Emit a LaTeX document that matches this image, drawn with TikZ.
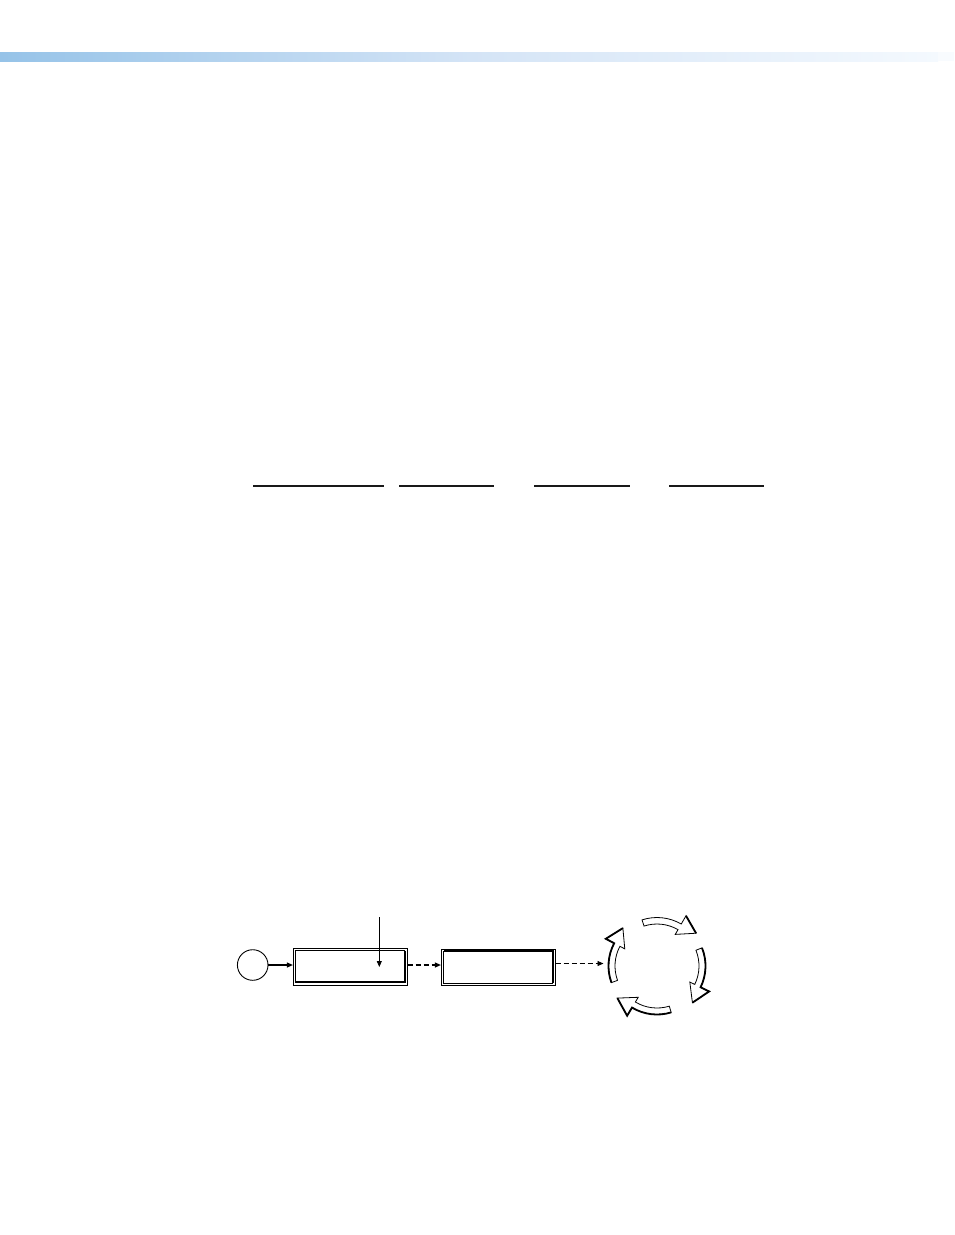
\documentclass[tikz,border=0pt]{standalone}
\usetikzlibrary{arrows.meta}
\definecolor{barL}{RGB}{150,195,232}
\definecolor{barM}{RGB}{212,228,246}
\definecolor{barR}{RGB}{244,249,254}
\tikzset{
  rule/.style={line width=1.2pt, black!90},
  boxouter/.style={draw, line width=0.8pt, minimum width=114pt, minimum height=36.7pt, inner sep=0pt},
  boxinner/.style={line width=0.9pt},
  heavy/.style={line width=1.8pt},
  conn/.style={line width=1.1pt, -{Triangle[length=6pt,width=5pt]}},
  dconn/.style={line width=1.1pt, dash pattern=on 5pt off 3pt, -{Triangle[length=6pt,width=5pt]}},
  cyc/.style={draw, fill=white, line width=0.8pt, line join=miter},
  cycouter/.style={line width=1.8pt}
}
\begin{document}
\begin{tikzpicture}[x=1pt, y=-1pt]
\useasboundingbox (0,0) rectangle (954,1235);
\fill[white] (0,0) rectangle (954,1235);
% top gradient bar
\shade[left color=barL, right color=barM] (0,52) rectangle (470,61);
\shade[left color=barM, right color=barR] (470,52) rectangle (938,61);
\fill[barR!60!white] (938,52) rectangle (954,61);
% rules
\draw[rule] (253,486) -- (384,486);
\draw[rule] (399,486) -- (494,486);
\draw[rule] (534,486) -- (630,486);
\draw[rule] (669,486) -- (764,486);
% diagram
\node[draw, circle, line width=0.9pt, minimum size=30.6pt, inner sep=0pt] (c) at (252.7,965) {};
\node[boxouter] (b1) at (350.3,966.6) {};
\node[boxouter] (b2) at (498.3,967.3) {};
% inner boxes
\draw[boxinner] ([shift={(3,2.7)}]b1.north west) rectangle ([shift={(-3,-3)}]b1.south east);
\draw[heavy] ([shift={(-3,2.7)}]b1.north east) -- ([shift={(-3,-3)}]b1.south east) -- ([shift={(3,-3)}]b1.south west);
\draw[heavy] ([shift={(0,0.2)}]b1.south west) -- ([shift={(0,0.2)}]b1.south east);
\draw[boxinner] ([shift={(3,2.4)}]b2.north west) rectangle ([shift={(-3,-3)}]b2.south east);
\draw[heavy] ([shift={(3,2.4)}]b2.north west) -- ([shift={(-3,2.4)}]b2.north east) -- ([shift={(-3,-3)}]b2.south east);
% connectors
\coordinate (vtop) at (379.3,917);
\coordinate (vend) at (379.3,967);
\draw[conn, line width=0.9pt] (vtop) -- (vend);
\draw[conn] (c.east) -- (c.east -| b1.west);
\coordinate (cthick) at ([xshift=10pt]c.east);
\draw[line width=2pt] (c.east) -- (cthick);
\coordinate (d1) at (b1.east |- 0,965);
\draw[dconn] (d1) -- (d1 -| b2.west);
\coordinate (cyc) at (657,966);
\coordinate (cycin) at (603.5,963.5);
\draw[dconn, line width=0.9pt] (b2.east |- cycin) -- (cycin);
% cycle of four hollow arrows
\begin{scope}[shift={(cyc)}, y=1pt]
  \foreach \t in {108,22,-73,200}{
    \pgfmathsetmacro{\b}{\t-48}
    \pgfmathsetmacro{\p}{\b-20}
    \draw[cyc] (\t:48.5) arc[start angle=\t, end angle=\b, radius=48.5]
      -- (\b:58) -- (\p:51) -- (\b:36.5) -- (\b:42)
      arc[start angle=\b, end angle=\t, radius=42] -- cycle;
  }
  \foreach \t in {22,-73,200}{
    \pgfmathsetmacro{\b}{\t-48}
    \pgfmathsetmacro{\p}{\b-20}
    \draw[cycouter] (\t:48.5) arc[start angle=\t, end angle=\b, radius=48.5] -- (\b:58) -- (\p:51);
  }
  \draw[cycouter] (60:58) -- (40:51);
\end{scope}
\end{tikzpicture}
\end{document}
